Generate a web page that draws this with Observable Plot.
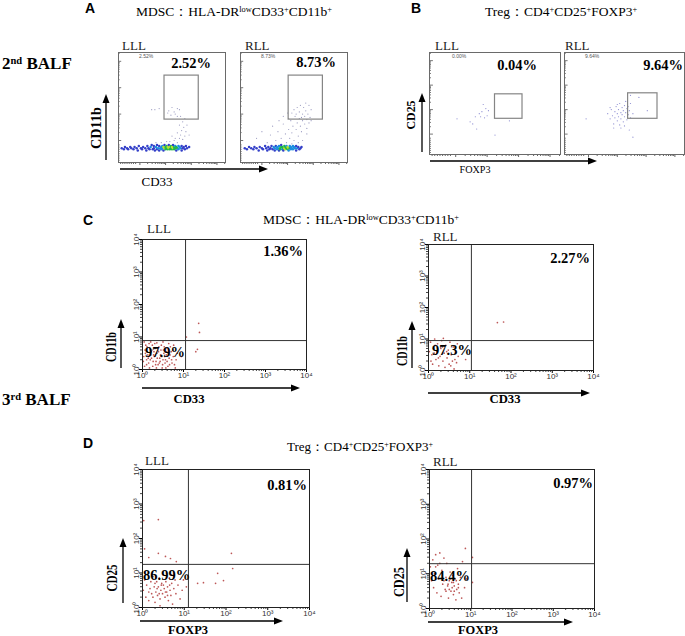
<!DOCTYPE html>
<html><head><meta charset="utf-8">
<script src="https://cdn.jsdelivr.net/npm/d3@7"></script>
<script src="https://cdn.jsdelivr.net/npm/@observablehq/plot@0.6"></script>
<style>
html,body{margin:0;padding:0;background:#fff;}
#fig{position:relative;width:685px;height:636px;overflow:hidden;background:#fff;}
#fig svg{position:absolute;}
</style></head><body><div id="fig"></div>
<script>
// ---------- DATA ----------
// Panel A/B: events in display units (0-100 of the plot range)
const aLLLBand = [[3,13],[5,12],[6,14],[8,13],[9,12],[11,14],[12,13],[14,12],[15,14],[17,13],[18,11],[19,15],[21,13],[22,12],[23,14],[25,13],[26,11],[27,15],[28,13],[29,12],[30,14],[31,16],[32,12],[33,13],[33,15],[34,11],[35,14],[36,12],[36,16],[37,13],[38,15],[38,11],[39,13],[40,14],[40,12],[41,15],[41,13],[42,11],[42,14],[43,13],[43,16],[44,12],[44,14],[45,13],[45,15],[46,12],[46,14],[47,13],[47,16],[48,12],[48,14],[49,13],[49,15],[50,12],[50,14],[51,13],[51,16],[52,12],[52,14],[53,13],[53,15],[54,11],[54,14],[55,13],[56,15],[56,12],[57,14],[58,13],[59,11],[59,15],[60,13],[61,14],[62,12],[63,15],[64,13],[66,14]];
const aLLLSparse = [[48,19],[52,20],[55,18],[57,22],[60,21],[58,25],[62,24],[55,27],[59,29],[63,28],[61,32],[57,34],[64,34],[60,37],[62,40],[58,42],[53,22],[45,19],[40,18],[35,18],[66,25],[50,24],[47,47],[50,50],[52,46],[55,49],[49,43],[53,44],[57,48],[46,45],[55,42],[34,48],[38,49],[31,48]];
const aRLLBand = [[4,13],[6,12],[8,14],[10,13],[12,12],[13,14],[15,13],[17,11],[18,14],[20,13],[21,12],[23,15],[24,13],[25,11],[26,14],[27,12],[28,13],[29,15],[30,12],[31,14],[32,13],[32,11],[33,15],[34,12],[34,14],[35,13],[36,11],[36,15],[37,13],[37,12],[38,14],[38,16],[39,12],[39,14],[40,13],[40,11],[41,15],[41,13],[42,12],[42,14],[43,13],[43,15],[44,12],[44,14],[45,13],[45,11],[46,15],[46,13],[47,12],[47,14],[48,13],[49,15],[49,12],[50,14],[51,13],[52,11],[52,15],[53,13],[54,14],[55,12],[56,13],[57,14]];
const aRLLSparse = [[15,22],[20,28],[25,18],[28,25],[30,33],[33,20],[35,28],[38,22],[40,35],[42,26],[43,18],[45,30],[46,22],[47,38],[48,27],[49,33],[50,20],[51,42],[52,30],[53,36],[54,24],[55,40],[55,46],[56,33],[57,28],[58,44],[58,38],[59,50],[60,35],[60,42],[61,47],[62,31],[62,39],[63,44],[64,52],[64,36],[65,41],[66,48],[50,48],[53,50],[56,52],[52,44],[57,41],[61,54],[48,45],[45,40],[66,38],[62,26],[58,20],[40,42],[36,38],[44,45],[54,18],[48,17]];
const bLLLPts = [[21,35],[31,32],[35,37],[38,40],[40,42],[43,45],[44,38],[39,37],[36,25],[50,19],[61,33],[41,49],[45,43],[33,30],[42,36]];
const bRLLPts = [[36,40],[38,35],[39,44],[40,38],[41,30],[42,42],[42,36],[43,47],[44,33],[44,40],[45,44],[45,37],[46,50],[46,29],[47,41],[47,35],[48,46],[48,39],[49,43],[49,32],[50,48],[50,37],[51,41],[51,52],[52,45],[52,34],[53,39],[53,47],[54,43],[55,50],[41,26],[47,26],[44,49],[50,28],[55,36],[38,46],[62,56],[69,43],[55,58],[57,40],[18,35],[57,17],[54,24]];
// gates [x1, x2, y1, y2]
const aLLLGate = [43, 75, 39, 79];
const aRLLGate = [45, 77, 39, 79];
const bLLLGate = [50, 71, 35, 59];
const bRLLGate = [53, 77.5, 35, 60];

// Panels C/D: events as log10 fluorescence (decades 0-4)
const cLLLPts = [[0.05,0.1],[0.1,0.3],[0.12,0.55],[0.08,0.75],[0.15,0.2],[0.2,0.45],[0.18,0.65],[0.25,0.1],[0.22,0.35],[0.28,0.55],[0.3,0.8],[0.33,0.25],[0.35,0.5],[0.38,0.15],[0.4,0.7],[0.42,0.35],[0.45,0.6],[0.48,0.05],[0.5,0.3],[0.52,0.5],[0.55,0.2],[0.58,0.45],[0.6,0.65],[0.62,0.1],[0.65,0.35],[0.7,0.55],[0.72,0.2],[0.75,0.4],[0.8,0.05],[0.82,0.3],[0.03,0.4],[0.06,0.6],[0.1,0.15],[0.13,0.45],[0.16,0.8],[0.19,0.3],[0.23,0.6],[0.26,0.25],[0.29,0.4],[0.31,0.65],[0.34,0.05],[0.36,0.35],[0.39,0.55],[0.41,0.2],[0.44,0.45],[0.46,0.75],[0.49,0.15],[0.51,0.6],[0.54,0.4],[0.57,0.05],[0.6,0.25],[0.63,0.5],[0.66,0.15],[0.68,0.7],[0.74,0.6],[0.78,0.15],[0.85,0.5],[0.02,0.25],[0.07,0.5],[0.11,0.7],[0.14,0.35],[0.17,0.05],[0.21,0.55],[0.24,0.75],[0.27,0.45],[0.32,0.15],[0.37,0.6],[0.43,0.25],[0.47,0.4],[0.53,0.7],[0.56,0.3],[0.59,0.55],[0.64,0.8],[0.67,0.45],[0.71,0.3],[0.76,0.75],[0.04,0.85],[0.2,0.85],[0.35,0.82],[0.5,0.85],[1.37,1.42],[1.39,1.14],[1.34,0.62],[1.3,0.55],[1.07,1.0],[0.95,0.4]];
const cRLLPts = [[0.05,0.9],[0.08,0.5],[0.1,0.2],[0.12,0.7],[0.15,1.0],[0.18,0.35],[0.2,0.6],[0.22,0.85],[0.25,0.15],[0.28,0.45],[0.3,0.7],[0.32,0.95],[0.35,0.3],[0.38,0.55],[0.4,0.1],[0.42,0.8],[0.45,0.4],[0.48,0.65],[0.5,0.2],[0.52,0.9],[0.55,0.5],[0.58,0.3],[0.6,0.75],[0.62,0.05],[0.65,0.55],[0.68,0.25],[0.7,0.85],[0.72,0.45],[0.06,0.3],[0.14,0.55],[0.24,0.4],[0.34,0.75],[0.44,0.6],[0.54,0.15],[0.64,0.35],[0.16,0.8],[0.36,1.02],[0.02,0.6],[1.67,1.52],[1.82,1.54],[0.9,0.35]];
const dLLLPts = [[0.02,0.5],[0.05,0.8],[0.08,0.3],[0.1,0.65],[0.12,0.95],[0.15,0.2],[0.18,0.55],[0.2,0.75],[0.22,0.4],[0.25,0.9],[0.28,0.6],[0.3,0.15],[0.32,0.45],[0.34,0.75],[0.36,0.35],[0.38,0.6],[0.4,0.85],[0.42,0.25],[0.44,0.5],[0.46,0.7],[0.48,0.4],[0.5,0.95],[0.52,0.55],[0.54,0.3],[0.56,0.75],[0.58,0.45],[0.6,0.6],[0.62,0.2],[0.64,0.85],[0.66,0.5],[0.68,0.35],[0.7,0.7],[0.72,0.1],[0.75,0.55],[0.78,0.8],[0.8,0.4],[0.85,0.65],[0.9,0.25],[0.95,0.5],[0.98,0.8],[0.35,0.55],[0.45,0.65],[0.55,0.45],[0.4,0.4],[0.5,0.65],[0.6,0.35],[0.3,0.7],[0.65,0.65],[0.25,0.3],[0.15,0.45],[0.42,0.05],[0.7,0.95],[0.03,2.52],[0.38,2.55],[0.15,1.45],[0.38,1.57],[0.55,1.48],[0.67,1.42],[0.81,1.33],[0.05,1.7],[1.32,0.7],[1.46,0.72],[1.75,0.7],[1.8,0.99],[1.94,0.78],[2.16,1.13],[2.13,1.57],[1.05,0.6]];
const dRLLPts = [[0.02,1.2],[0.05,0.8],[0.08,1.4],[0.1,0.6],[0.12,1.0],[0.15,1.55],[0.18,0.45],[0.2,1.25],[0.22,0.85],[0.25,1.6],[0.28,0.35],[0.3,1.1],[0.32,0.7],[0.35,1.45],[0.38,0.55],[0.4,0.9],[0.42,1.3],[0.44,0.65],[0.46,0.3],[0.48,0.8],[0.5,1.05],[0.52,0.5],[0.54,0.75],[0.56,0.95],[0.58,0.4],[0.6,0.65],[0.62,0.85],[0.64,0.25],[0.66,0.55],[0.68,1.15],[0.7,0.7],[0.72,0.45],[0.75,0.9],[0.78,0.3],[0.8,1.35],[0.85,0.6],[0.9,0.85],[0.45,0.7],[0.55,0.6],[0.5,0.85],[0.6,0.5],[0.65,0.8],[0.48,0.55],[0.58,0.75],[0.4,0.5],[0.7,0.6],[0.35,0.8],[0.25,1.3],[0.15,1.2],[0.87,1.73],[1.04,1.47],[1.04,0.75]];
// quadrant gates [x, y] in decades
const cLLLGate = [1.05, 0.89];
const cRLLGate = [1.04, 0.95];
const dLLLGate = [1.1, 1.25];
const dRLLGate = [1.02, 1.29];

const decades = [0, 1, 2, 3, 4];
const supDigits = ["⁰", "¹", "²", "³", "⁴"];
const pctA = ["2.52%", "8.73%"];
const pctB = ["0.04%", "9.64%"];
const pctC = ["1.36%", "97.9%", "2.27%", "97.3%"];
const pctD = ["0.81%", "86.99%", "0.97%", "84.4%"];

// ---------- DRAW ----------
const fig = document.getElementById("fig");

function place(p, left, top) {
  p.style.left = left + "px";
  p.style.top = top + "px";
  p.style.background = "transparent";
  p.style.overflow = "visible";
  fig.appendChild(p);
}

// minor log tick positions from d3's log scale
const logTicks = d3.scaleLog().domain([1, 1e4]).ticks().map(v => Math.log10(v)).filter(v => !decades.includes(v));

// A/B display ticks (biexponential-like)
const abMajor = [20, 44, 68, 92];
const abMinor = abMajor.flatMap(p => d3.scaleLog().domain([1, 10]).ticks().slice(1, -1).map(k => p + 24 * Math.log10(k))).filter(v => v < 100)
  .concat(d3.range(2, 18, 2));

function withDensity(pts, rad) {
  return pts.map(([x, y]) => ({x, y, k: pts.filter(([u, v]) => (u - x) ** 2 + (v - y) ** 2 <= rad * rad).length}));
}

function abPanel(frame, band, sparse, gate, sparseColor) {
  const [x0, y0, x1, y1] = frame;
  const ml = 2, mr = 2, mt = 2, mb = 6;
  const bandData = withDensity(band, 3.2);
  const p = Plot.plot({
    width: x1 - x0 + ml + mr, height: y1 - y0 + mt + mb,
    marginLeft: ml, marginRight: mr, marginTop: mt, marginBottom: mb,
    x: {domain: [0, 100], axis: null}, y: {domain: [0, 100], axis: null},
    color: {type: "threshold", domain: [8, 11, 13], range: ["#3440c8", "#1c8ee0", "#20b84a", "#b8e030"]},
    marks: [
      Plot.axisX(abMinor, {tickSize: 2, fill: "none", label: null, stroke: "#666"}),
      Plot.axisX(abMajor, {tickSize: 3, fill: "none", label: null, stroke: "#666"}),
      Plot.ruleY(abMinor, {y: d => d, x1: 0, x2: 1.5, stroke: "#777"}),
      Plot.ruleY(abMajor, {y: d => d, x1: 0, x2: 3, stroke: "#777"}),
      Plot.dot(sparse, {x: d => d[0], y: d => d[1], r: 0.6, fill: sparseColor, stroke: null}),
      Plot.dot(bandData, {x: "x", y: "y", r: 1.25, fill: "k", stroke: null}),
      Plot.rect([gate], {x1: d => d[0], x2: d => d[1], y1: d => d[2], y2: d => d[3], fill: "none", stroke: "#858585", strokeWidth: 1.2}),
      Plot.frame({stroke: "#6a6a6a"})
    ]
  });
  place(p, x0 - ml, y0 - mt);
}

function logPanel(frame, pts, gate) {
  const [x0, y0, x1, y1] = frame;
  const ml = 20, mr = 3, mt = 3, mb = 14;
  const fmt = d => "10" + supDigits[d];
  const p = Plot.plot({
    width: x1 - x0 + ml + mr, height: y1 - y0 + mt + mb,
    marginLeft: ml, marginRight: mr, marginTop: mt, marginBottom: mb,
    style: {fontFamily: "Liberation Sans, Arial, sans-serif"},
    x: {domain: [0, 4], axis: null}, y: {domain: [0, 4], axis: null},
    marks: [
      Plot.axisX(logTicks, {tickSize: 2, fill: "none", label: null, stroke: "#444"}),
      Plot.axisX(decades, {tickSize: 3, tickPadding: 0, tickFormat: fmt, fontSize: 8, label: null, fill: "#333"}),
      Plot.axisY(logTicks, {tickSize: 2, fill: "none", label: null, stroke: "#444"}),
      Plot.axisY(decades, {tickSize: 3, tickPadding: 1, tickFormat: fmt, tickRotate: -90, fontSize: 8, label: null, fill: "#333"}),
      Plot.dot(pts, {x: d => d[0], y: d => d[1], r: 0.85, fill: "#b23a3a", fillOpacity: 0.85, stroke: null}),
      Plot.ruleX([gate[0]], {stroke: "#333"}),
      Plot.ruleY([gate[1]], {stroke: "#333"}),
      Plot.frame({stroke: "#222"})
    ]
  });
  place(p, x0 - ml, y0 - mt);
}

abPanel([118, 52, 225, 162], aLLLBand, aLLLSparse, aLLLGate, "#9a9ac0");
abPanel([240, 52, 347, 162], aRLLBand, aRLLSparse, aRLLGate, "#9a9ac0");
abPanel([429, 52, 560, 154], [], bLLLPts, bLLLGate, "#8a8ad0");
abPanel([564, 52, 684, 154], [], bRLLPts, bRLLGate, "#8a8ad0");
logPanel([142, 239, 306, 369], cLLLPts, cLLLGate);
logPanel([428, 244, 593, 370], cRLLPts, cRLLGate);
logPanel([142, 469, 309, 607], dLLLPts, dLLLGate);
logPanel([429, 469, 594, 608], dRLLPts, dRLLGate);

// ---------- ANNOTATION OVERLAY ----------
const ov = d3.select(fig).append("svg").attr("width", 685).attr("height", 636)
  .style("left", "0px").style("top", "0px").style("pointer-events", "none");

function label(x, y, parts, o = {}) {
  const size = o.size || 13;
  const t = ov.append("text").attr("x", x).attr("y", y)
    .attr("font-family", o.family || "Liberation Serif, Times New Roman, serif")
    .attr("font-size", size).attr("font-weight", o.weight || "normal")
    .attr("text-anchor", o.anchor || "start").attr("fill", o.color || "#000");
  if (o.rotate) t.attr("transform", `rotate(${o.rotate},${x},${y})`).attr("dominant-baseline", "central");
  if (o.len) t.attr("textLength", o.len).attr("lengthAdjust", "spacingAndGlyphs");
  for (const p of (typeof parts === "string" ? [parts] : parts)) {
    if (Array.isArray(p)) t.append("tspan").attr("baseline-shift", "super").attr("font-size", size * 0.62).text(p[0]);
    else t.append("tspan").text(p);
  }
}
function hArrow(x1, x2, y) {
  ov.append("line").attr("x1", x1).attr("x2", x2 - 6).attr("y1", y).attr("y2", y).attr("stroke", "#000").attr("stroke-width", 1.3);
  ov.append("path").attr("d", `M${x2},${y}L${x2 - 9},${y - 3.5}L${x2 - 9},${y + 3.5}Z`).attr("fill", "#000");
}
function vArrow(x, y1, y2) {
  ov.append("line").attr("x1", x).attr("x2", x).attr("y1", y1).attr("y2", y2 + 6).attr("stroke", "#000").attr("stroke-width", 1.3);
  ov.append("path").attr("d", `M${x},${y2}L${x - 3.5},${y2 + 9}L${x + 3.5},${y2 + 9}Z`).attr("fill", "#000");
}

const sans = "Liberation Sans, Arial, sans-serif";
// panel letters
label(90, 13, "A", {family: sans, weight: "bold", size: 14, anchor: "middle"});
label(416, 13, "B", {family: sans, weight: "bold", size: 14, anchor: "middle"});
label(88, 225, "C", {family: sans, weight: "bold", size: 14, anchor: "middle"});
label(88, 448, "D", {family: sans, weight: "bold", size: 14, anchor: "middle"});
// row labels
label(2, 69, ["2", ["nd"], " BALF"], {weight: "bold", size: 17});
label(2, 405, ["3", ["rd"], " BALF"], {weight: "bold", size: 17});
// titles
const mdscTitle = ["MDSC：HLA-DR", ["low"], "CD33", ["+"], "CD11b", ["+"]];
const tregTitle = ["Treg：CD4", ["+"], "CD25", ["+"], "FOXP3", ["+"]];
label(136, 16, mdscTitle, {size: 13.5});
label(485, 16, tregTitle, {size: 13.5});
label(263, 224, mdscTitle, {size: 13.5});
label(287, 451, tregTitle, {size: 13});
// sample labels
const lobe = {size: 13, color: "#222"};
label(122, 50, "LLL", lobe); label(245, 50, "RLL", lobe);
label(435, 50, "LLL", lobe); label(565, 50, "RLL", lobe);
label(147, 233, "LLL", lobe); label(433, 241, "RLL", lobe);
label(145, 465, "LLL", lobe); label(433, 466, "RLL", lobe);
// tiny in-plot stats
const tiny = {family: sans, size: 5, color: "#555"};
label(139, 58, pctA[0], tiny); label(261, 58, pctA[1], tiny);
label(452, 58, "0.00%", tiny); label(585, 58, pctB[1], tiny);
// bold percentages
const big = {weight: "bold", size: 14.5};
label(211, 68, pctA[0], {...big, anchor: "end"});
label(336, 67, pctA[1], {...big, anchor: "end"});
label(537, 70, pctB[0], {...big, anchor: "end"});
label(683, 70, pctB[1], {...big, anchor: "end"});
label(303, 256, pctC[0], {...big, anchor: "end"});
label(145, 357, pctC[1], big);
label(590, 263, pctC[2], {...big, anchor: "end"});
label(432, 355, pctC[3], big);
label(307, 490, pctD[0], {...big, anchor: "end"});
label(143, 580, pctD[1], big);
label(593, 488, pctD[2], {...big, anchor: "end"});
label(430, 581, pctD[3], big);
// axis arrows
vArrow(106, 160, 94); hArrow(120, 268, 169);
vArrow(422, 152, 93); hArrow(430, 597, 161);
vArrow(121, 368, 319); hArrow(142, 300, 388);
vArrow(412, 368, 321); hArrow(428, 590, 393);
vArrow(123, 603, 538); hArrow(140, 283, 621);
vArrow(407, 602, 548); hArrow(428, 573, 622);
// axis names
label(96, 128, "CD11b", {weight: "bold", size: 14, rotate: -90, anchor: "middle", len: 42});
label(157, 186, "CD33", {size: 13, anchor: "middle"});
label(410, 115, "CD25", {weight: "bold", size: 13.5, rotate: -90, anchor: "middle", len: 29});
label(475, 173, "FOXP3", {size: 11, anchor: "middle", len: 31});
label(111, 347, "CD11b", {weight: "bold", size: 15, rotate: -90, anchor: "middle", len: 30});
label(402, 351, "CD11b", {weight: "bold", size: 15, rotate: -90, anchor: "middle", len: 30});
label(189, 403, "CD33", {weight: "bold", size: 13, anchor: "middle", len: 31});
label(505, 403, "CD33", {weight: "bold", size: 13, anchor: "middle", len: 31});
label(112, 578, "CD25", {weight: "bold", size: 15, rotate: -90, anchor: "middle", len: 27});
label(399, 582, "CD25", {weight: "bold", size: 15, rotate: -90, anchor: "middle", len: 30});
label(188, 634, "FOXP3", {weight: "bold", size: 13, anchor: "middle", len: 40});
label(478, 634, "FOXP3", {weight: "bold", size: 13, anchor: "middle", len: 40});
</script></body></html>
